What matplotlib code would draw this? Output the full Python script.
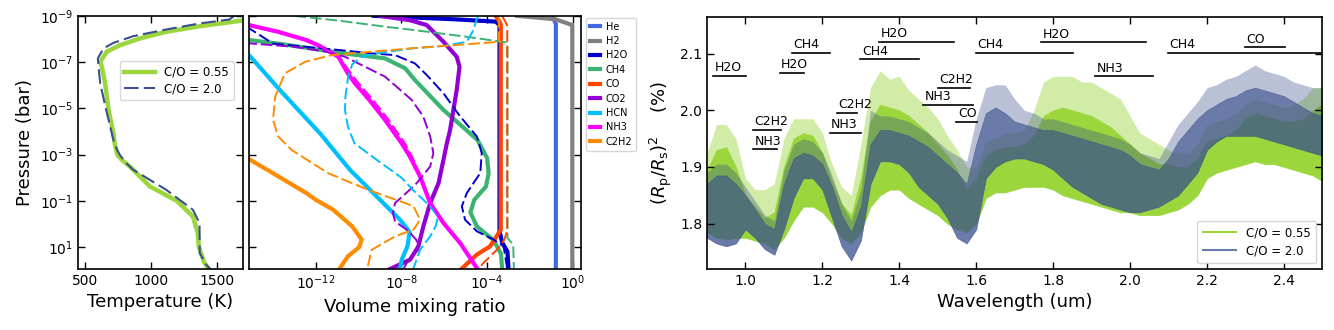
import numpy as np
import matplotlib
matplotlib.use('Agg')
import matplotlib.pyplot as plt

# ---------------- temperature-pressure profiles (log10 P [bar], T [K])
tp_logp_055 = [-8.9, -8.81, -8.74, -8.55, -8.31, -8.02, -7.73, -7.45, -7.01, -6.8, -6.08, -4.97,
               -3.92, -3.45, -2.99, -2.75, -2.48, -1.62, -1.0, -0.32, 0.4, 1.0, 1.69, 1.95]
tp_t_055 = [1800, 1708, 1620, 1370, 1119, 918, 768, 668, 618, 630, 655, 680,
            718, 728, 748, 785, 843, 994, 1197, 1320, 1357, 1365, 1407, 1440]
tp_logp_20 = [-9.0, -8.84, -8.67, -8.41, -8.12, -7.83, -7.59, -7.16, -6.8, -6.08, -4.93, -3.63,
              -3.3, -2.99, -2.65, -2.34, -1.47, -0.61, -0.04, 1.26, 1.76, 1.95]
tp_t_20 = [1633, 1595, 1370, 1119, 868, 718, 643, 600, 605, 618, 663, 718,
           738, 766, 810, 868, 1119, 1320, 1370, 1372, 1420, 1450]

# ---------------- abundances (log10 P, log10 VMR); _s = C/O 0.55, _d = C/O 2.0
species = ['He', 'H2', 'H2O', 'CH4', 'CO', 'CO2', 'HCN', 'NH3', 'C2H2']
colors = ['royalblue', 'gray', 'mediumblue', 'mediumseagreen', 'orangered',
          'darkviolet', 'deepskyblue', 'magenta', 'darkorange']

he_p_s = [-9.0, -8.65, 2.0]
he_x_s = [-0.95, -0.79, -0.79]
he_p_d = [-9.0, -8.65, 2.0]
he_x_d = [-0.92, -0.78, -0.78]

h2_p_s = [-9.0, -8.85, -8.6, 2.0]
h2_x_s = [-2.6, -0.8, -0.02, -0.02]
h2_p_d = [-9.0, -8.8, -8.55, 2.0]
h2_x_d = [-2.2, -0.6, -0.02, -0.02]

h2o_p_s = [-9.0, -8.95, -8.85, -8.75, -8.6, 0.3, 0.8, 1.2, 1.95]
h2o_x_s = [-9.3, -8.0, -5.5, -3.6, -3.42, -3.42, -3.3, -3.05, -3.0]
h2o_p_d = [-8.6, -8.45, -7.8, -7.52, -7.37, -7.3, -6.94, -6.44, -5.65, -4.7, -3.78, -3.06,
           -2.2, -1.33, -0.76, -0.18, 0.32, 0.68, 0.97, 1.83, 1.95]
h2o_x_d = [-16, -15.1, -14.0, -10.9, -9.3, -8.3, -7.37, -6.82, -6.04, -5.3, -4.48, -4.25,
           -4.32, -4.95, -5.18, -5.03, -4.48, -3.7, -3.23, -3.08, -3.08]

ch4_p_s = [-8.1, -7.95, -7.8, -7.37, -7.16, -6.73, -6.22, -4.93, -3.63, -2.85, -2.19, -1.62,
           -1.04, -0.5, 0.11, 0.7, 1.3, 1.95]
ch4_x_s = [-16, -15.1, -13.76, -10.64, -8.77, -7.83, -7.37, -6.04, -4.45, -4.0, -3.93, -4.05,
           -4.6, -4.78, -4.48, -3.7, -3.35, -3.3]
ch4_p_d = [-9.0, -8.8, -8.5, -8.38, -8.1, -7.85, -7.75, 0.6, 0.9, 1.95]
ch4_x_d = [-13.0, -11.0, -8.5, -7.37, -5.0, -3.1, -3.05, -3.05, -2.78, -2.75]

co_p_s = [-9.0, -8.75, -8.6, 0.25, 0.6, 0.97, 1.33, 1.95]
co_x_s = [-3.6, -3.42, -3.36, -3.36, -3.6, -3.86, -4.48, -5.2]
co_p_d = [-9.0, -8.7, -8.55, 0.3, 0.7, 1.12, 1.69, 1.95]
co_x_d = [-3.3, -3.12, -3.06, -3.06, -3.2, -3.54, -4.17, -4.4]

co2_p_s = [-9.0, -8.81, -8.6, -7.88, -7.23, -6.8, -5.79, -4.06, -3.49, -2.77, -1.76, -0.9,
           0.11, 0.97, 1.55, 1.98]
co2_x_s = [-9.0, -7.6, -6.82, -6.04, -5.42, -5.29, -5.42, -5.73, -5.88, -6.04, -6.27, -6.66,
           -6.98, -7.21, -7.6, -8.6]
co2_p_d = [-8.0, -7.81, -7.66, -7.45, -7.23, -6.37, -5.36, -4.64, -3.78, -3.06, -2.48, -1.76,
           -1.4, -0.9, -0.47, -0.1, 0.3, 0.7, 1.1, 1.69, 1.95]
co2_x_d = [-16, -15.1, -13.0, -11.5, -10.64, -8.77, -7.52, -6.98, -6.66, -6.51, -6.66, -7.29,
           -7.7, -8.3, -8.4, -8.3, -7.68, -7.3, -7.2, -7.76, -7.9]

hcn_p_s = [-7.45, -7.3, -5.79, -3.92, -2.34, -1.04, -0.18, 0.35, 0.97, 1.55, 1.95]
hcn_x_s = [-16, -15.12, -13.68, -11.81, -10.41, -9.0, -8.07, -7.62, -7.72, -7.99, -8.07]
hcn_p_d = [-9.0, -8.88, -8.38, -7.88, -7.7, -7.59, -7.4, -7.23, -6.9, -6.37, -5.5, -4.93,
           -4.2, -3.49, -2.8, -2.0, -1.5, -0.76, -0.32, 0.1, 0.54, 1.12, 1.95]
hcn_x_d = [-4.4, -4.48, -4.64, -4.95, -6.0, -7.52, -9.0, -9.86, -10.3, -10.49, -10.62, -10.64,
           -10.5, -10.2, -9.2, -8.0, -7.5, -6.66, -6.3, -6.4, -6.66, -7.13, -7.45]

nh3_p_s = [-8.75, -8.6, -8.31, -7.95, -7.73, -7.23, -6.5, -6.08, -5.36, -4.5, -3.5, -2.9,
           -2.05, -0.9, -0.04, 0.83, 1.95]
nh3_x_s = [-16, -15.12, -13.76, -12.44, -11.89, -10.95, -10.5, -10.17, -9.5, -8.77, -8.0, -7.6,
           -7.13, -6.66, -6.04, -5.26, -4.45]
nh3_p_d = nh3_p_s
nh3_x_d = [-16, -15.12, -13.76, -12.44, -11.89, -10.9, -10.35, -10.0, -9.33, -8.6, -7.85, -7.5,
           -7.1, -6.66, -6.04, -5.26, -4.45]

c2h2_p_s = [-3.0, -2.8, -2.19, -1.33, -1.04, -0.61, 0.11, 0.68, 1.0, 1.4, 1.95]
c2h2_x_s = [-15.5, -15.12, -14.0, -12.44, -12.0, -11.19, -10.3, -9.86, -9.97, -10.5, -10.9]
c2h2_p_d = [-9.0, -7.95, -7.88, -7.59, -7.3, -7.01, -6.51, -5.5, -4.5, -3.78, -3.2, -2.19,
            -1.47, -0.9, -0.76, -0.18, 0.25, 0.54, 1.12, 1.95]
c2h2_x_d = [-3.45, -3.45, -3.39, -7.6, -11.27, -12.5, -13.45, -13.9, -14.0, -13.76, -13.14, -11.42,
            -9.55, -7.83, -7.44, -7.13, -7.44, -8.3, -9.39, -9.6]

# ---------------- transmission spectra, (Rp/Rs)^2 in %
# lo = lower edge, hi = top of the dense band, pk = tips of the spikes
wave = [0.900, 0.925, 0.950, 0.975, 1.000, 1.025, 1.050, 1.075, 1.100, 1.125, 1.150, 1.175,
        1.200, 1.225, 1.250, 1.275, 1.300, 1.325, 1.350, 1.375, 1.400, 1.425, 1.450, 1.475,
        1.500, 1.525, 1.550, 1.575, 1.600, 1.625, 1.650, 1.675, 1.700, 1.725, 1.750, 1.775,
        1.800, 1.825, 1.850, 1.875, 1.900, 1.925, 1.950, 1.975, 2.000, 2.025, 2.050, 2.075,
        2.100, 2.125, 2.150, 2.175, 2.200, 2.225, 2.250, 2.275, 2.300, 2.325, 2.350, 2.375,
        2.400, 2.425, 2.450, 2.475, 2.500]
green_lo = [1.785, 1.775, 1.772, 1.775, 1.775, 1.770, 1.765, 1.755, 1.775, 1.805, 1.830, 1.830,
            1.820, 1.800, 1.775, 1.765, 1.785, 1.830, 1.850, 1.860, 1.860, 1.845, 1.835, 1.825,
            1.815, 1.800, 1.790, 1.785, 1.800, 1.845, 1.855, 1.855, 1.860, 1.865, 1.865, 1.865,
            1.860, 1.850, 1.845, 1.840, 1.835, 1.830, 1.825, 1.820, 1.820, 1.815, 1.815, 1.815,
            1.820, 1.825, 1.835, 1.850, 1.880, 1.890, 1.895, 1.900, 1.905, 1.910, 1.905, 1.905,
            1.900, 1.895, 1.890, 1.885, 1.875]
green_hi = [1.895, 1.930, 1.935, 1.900, 1.850, 1.830, 1.810, 1.820, 1.900, 1.950, 1.960, 1.955,
            1.925, 1.875, 1.835, 1.815, 1.880, 1.980, 2.010, 2.005, 2.000, 1.990, 1.975, 1.960,
            1.940, 1.920, 1.895, 1.860, 1.880, 1.920, 1.930, 1.935, 1.935, 1.940, 1.955, 1.990,
            2.000, 2.005, 2.000, 1.995, 1.990, 1.980, 1.970, 1.955, 1.940, 1.925, 1.915, 1.905,
            1.905, 1.900, 1.900, 1.915, 1.945, 1.950, 1.955, 1.965, 1.985, 1.995, 1.990, 1.985,
            1.980, 1.980, 1.985, 2.000, 2.010]
green_pk = [1.925, 1.975, 1.975, 1.950, 1.880, 1.860, 1.860, 1.870, 1.950, 1.985, 1.985, 1.985,
            1.960, 1.905, 1.865, 1.850, 1.940, 2.040, 2.070, 2.055, 2.060, 2.035, 2.020, 2.005,
            1.985, 1.955, 1.930, 1.900, 1.900, 1.945, 1.950, 1.960, 1.960, 1.965, 2.000, 2.050,
            2.060, 2.060, 2.060, 2.050, 2.050, 2.040, 2.030, 2.020, 1.990, 1.960, 1.950, 1.940,
            1.930, 1.925, 1.925, 1.940, 1.975, 1.980, 1.985, 1.995, 2.010, 2.020, 2.015, 2.010,
            2.005, 2.010, 2.020, 2.040, 2.040]
blue_lo = [1.775, 1.765, 1.760, 1.765, 1.790, 1.775, 1.755, 1.745, 1.790, 1.845, 1.880, 1.880,
           1.860, 1.810, 1.760, 1.735, 1.770, 1.870, 1.910, 1.910, 1.905, 1.890, 1.865, 1.850,
           1.835, 1.810, 1.775, 1.765, 1.790, 1.880, 1.900, 1.910, 1.915, 1.915, 1.910, 1.905,
           1.895, 1.880, 1.865, 1.855, 1.845, 1.835, 1.830, 1.825, 1.820, 1.820, 1.825, 1.830,
           1.840, 1.850, 1.870, 1.890, 1.930, 1.945, 1.955, 1.955, 1.955, 1.955, 1.950, 1.945,
           1.940, 1.935, 1.930, 1.925, 1.920]
blue_hi = [1.870, 1.885, 1.885, 1.870, 1.850, 1.825, 1.800, 1.790, 1.870, 1.915, 1.925, 1.920,
           1.905, 1.865, 1.815, 1.785, 1.830, 1.940, 1.965, 1.965, 1.960, 1.955, 1.945, 1.935,
           1.920, 1.905, 1.890, 1.870, 1.940, 1.995, 2.005, 1.995, 1.980, 1.975, 1.970, 1.965,
           1.965, 1.960, 1.955, 1.950, 1.945, 1.940, 1.935, 1.930, 1.920, 1.905, 1.900, 1.895,
           1.915, 1.945, 1.965, 1.985, 2.000, 2.010, 2.020, 2.025, 2.035, 2.040, 2.035, 2.030,
           2.025, 2.015, 2.005, 1.995, 1.990]
blue_pk = [1.890, 1.905, 1.905, 1.890, 1.865, 1.840, 1.815, 1.805, 1.895, 1.940, 1.950, 1.945,
           1.925, 1.885, 1.835, 1.805, 1.860, 2.000, 1.990, 1.990, 1.985, 1.980, 1.970, 1.960,
           1.945, 1.930, 1.920, 1.910, 1.985, 2.040, 2.045, 2.045, 2.020, 2.000, 1.995, 1.985,
           1.985, 1.980, 1.975, 1.970, 1.965, 1.960, 1.955, 1.950, 1.940, 1.925, 1.920, 1.915,
           1.945, 1.975, 1.995, 2.015, 2.040, 2.045, 2.055, 2.060, 2.070, 2.080, 2.070, 2.065,
           2.060, 2.050, 2.045, 2.040, 2.040]

# molecule band labels: name, start, end, level
band_names = ['H2O', 'CH4', 'H2O', 'C2H2', 'NH3', 'C2H2', 'NH3', 'CH4', 'H2O', 'C2H2', 'NH3',
              'CO', 'CH4', 'H2O', 'NH3', 'CH4', 'CO']
band_start = [0.915, 1.121, 1.089, 1.019, 1.019, 1.238, 1.219, 1.299, 1.348, 1.500, 1.461,
              1.548, 1.599, 1.769, 1.909, 2.099, 2.298]
band_end = [1.002, 1.220, 1.153, 1.092, 1.082, 1.291, 1.301, 1.452, 1.541, 1.584, 1.591,
            1.602, 1.852, 2.041, 2.060, 2.500, 2.402]
band_level = [2.061, 2.101, 2.066, 1.966, 1.931, 1.995, 1.960, 2.090, 2.121, 2.040, 2.010,
              1.980, 2.101, 2.120, 2.060, 2.101, 2.111]

green = '#9AD63C'
navy = '#3A4F8C'

fig = plt.figure(figsize=(13.34, 3.3), dpi=100)
ax1 = fig.add_axes([0.0585, 0.185, 0.1237, 0.767])
ax2 = fig.add_axes([0.1867, 0.185, 0.2489, 0.767])
ax3 = fig.add_axes([0.530, 0.185, 0.4613, 0.764])

for ax in (ax1, ax2, ax3):
    ax.tick_params(direction='in', top=True, right=True, length=5, width=1.0, labelsize=10)
    for s in ax.spines.values():
        s.set_linewidth(1.2)

# ---- panel 1: T-P
ax1.plot(tp_t_055, 10**np.array(tp_logp_055), color=green, lw=3.2, label='C/O = 0.55')
ax1.plot(tp_t_20, 10**np.array(tp_logp_20), color=navy, lw=1.5, ls=(0, (7, 2.5)), label='C/O = 2.0')
ax1.set_yscale('log')
ax1.set_ylim(10**1.95, 1e-9)
ax1.set_xlim(450, 1700)
ax1.set_xticks([500, 1000, 1500])
ax1.set_yticks([1e-9, 1e-7, 1e-5, 1e-3, 1e-1, 1e1])
ax1.yaxis.set_minor_locator(matplotlib.ticker.NullLocator())
ax1.set_xlabel('Temperature (K)', fontsize=13)
ax1.set_ylabel('Pressure (bar)', fontsize=13)
ax1.legend(loc='upper right', bbox_to_anchor=(0.98, 0.845), fontsize=8.5, handlelength=2.6,
           borderpad=0.4, labelspacing=0.3)

# ---- panel 2: VMR
profiles = [(he_p_s, he_x_s, he_p_d, he_x_d), (h2_p_s, h2_x_s, h2_p_d, h2_x_d),
            (h2o_p_s, h2o_x_s, h2o_p_d, h2o_x_d), (ch4_p_s, ch4_x_s, ch4_p_d, ch4_x_d),
            (co_p_s, co_x_s, co_p_d, co_x_d), (co2_p_s, co2_x_s, co2_p_d, co2_x_d),
            (hcn_p_s, hcn_x_s, hcn_p_d, hcn_x_d), (nh3_p_s, nh3_x_s, nh3_p_d, nh3_x_d),
            (c2h2_p_s, c2h2_x_s, c2h2_p_d, c2h2_x_d)]
for name, c, (ps, xs, pd_, xd) in zip(species, colors, profiles):
    ax2.plot(10**np.array(xs), 10**np.array(ps), color=c, lw=3.0, label=name, zorder=2)
    # He and H2 dashed curves sit under the solid ones
    z = 1.9 if name in ('He', 'H2') else 2.1
    ax2.plot(10**np.array(xd), 10**np.array(pd_), color=c, lw=1.4, ls=(0, (6, 2)), zorder=z)
ax2.set_xscale('log')
ax2.set_yscale('log')
ax2.set_ylim(10**1.95, 1e-9)
ax2.set_xlim(10**-15.12, 10**0.39)
ax2.set_xticks([1e-12, 1e-8, 1e-4, 1e0])
ax2.set_yticks([1e-9, 1e-7, 1e-5, 1e-3, 1e-1, 1e1])
ax2.xaxis.set_minor_locator(matplotlib.ticker.NullLocator())
ax2.yaxis.set_minor_locator(matplotlib.ticker.NullLocator())
ax2.set_yticklabels([])
ax2.set_xlabel('Volume mixing ratio', fontsize=13)
ax2.legend(loc='upper left', bbox_to_anchor=(1.01, 1.0), fontsize=7, handlelength=1.0,
           borderpad=0.4, labelspacing=0.45, handletextpad=0.6, borderaxespad=0.2)

# ---- panel 3: spectra
ax3.fill_between(wave, green_lo, green_hi, color=green, lw=0.5)
ax3.fill_between(wave, green_hi, green_pk, color=green, alpha=0.45, lw=0)
ax3.fill_between(wave, blue_lo, blue_hi, color=navy, alpha=0.75, lw=0.5)
ax3.fill_between(wave, blue_hi, blue_pk, color=navy, alpha=0.35, lw=0)
for nm, x0, x1, lv in zip(band_names, band_start, band_end, band_level):
    ax3.plot([x0, x1], [lv, lv], color='k', lw=1.2)
    ax3.text(x0 + 0.004, lv + 0.003, nm, fontsize=9, ha='left', va='bottom')
ax3.set_xlim(0.9, 2.5)
ax3.set_ylim(1.72, 2.165)
ax3.set_xticks([1.0, 1.2, 1.4, 1.6, 1.8, 2.0, 2.2, 2.4])
ax3.set_yticks([1.8, 1.9, 2.0, 2.1])
ax3.set_xlabel('Wavelength (um)', fontsize=13)
ax3.set_ylabel(r'$(R_\mathrm{p}/R_\mathrm{s})^2$    (%)', fontsize=13)
h1 = plt.Line2D([], [], color=green, lw=1.5)
h2 = plt.Line2D([], [], color=navy, alpha=0.75, lw=1.5)
ax3.legend([h1, h2], ['C/O = 0.55', 'C/O = 2.0'], loc='lower right', fontsize=8.5,
           handlelength=2.8, borderpad=0.5, labelspacing=0.4)

fig.savefig('out.png', dpi=100)
